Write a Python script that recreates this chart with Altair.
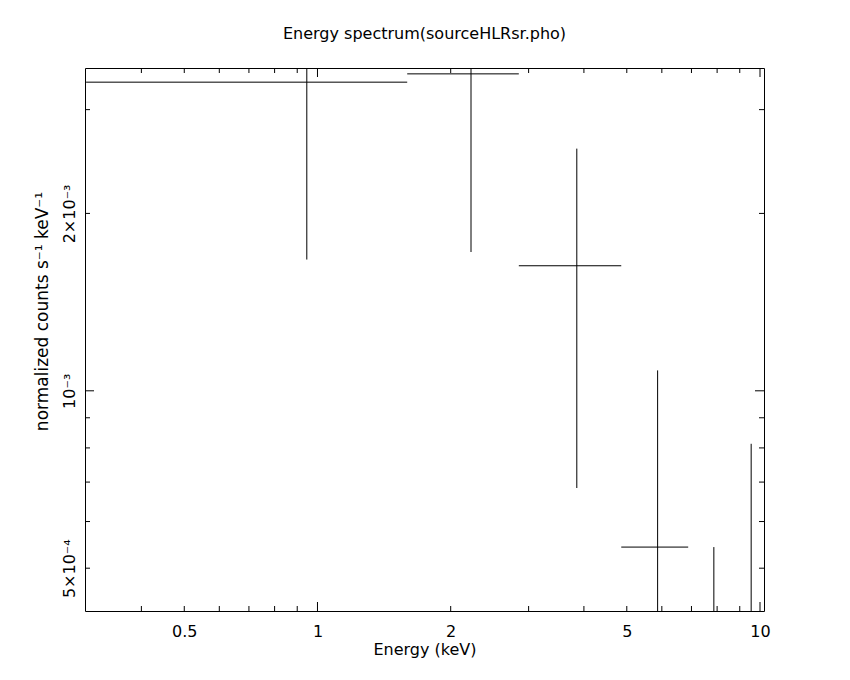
import altair as alt
import pandas as pd

# ---- data ----
bin_lo = [0.3, 1.595, 2.851, 4.858, 6.882, 8.85]
bin_hi = [1.595, 2.851, 4.858, 6.882, 8.85, 10.25]
energy = [0.946, 2.223, 3.855, 5.87, 7.865, 9.55]
rate = [3.34e-3, 3.45e-3, 1.63e-3, 5.43e-4, 2.75e-4, 4.1e-4]
rate_err = [1.67e-3, 1.73e-3, 0.946e-3, 5.40e-4, 2.68e-4, 4.03e-4]

x_label_values = [0.5, 1, 2, 5, 10]
y_label_values = [5e-4, 1e-3, 2e-3]
y_label_text = ["5×10⁻⁴", "10⁻³", "2×10⁻³"]
x_major = [1, 10]
x_minor = [0.4, 0.5, 0.6, 0.7, 0.8, 0.9, 2, 3, 4, 5, 6, 7, 8, 9]
y_major = [1e-3]
y_minor = [5e-4, 6e-4, 7e-4, 8e-4, 9e-4, 2e-3, 3e-3]

W, H = 679, 543
FONT = "DejaVu Sans"

df = pd.DataFrame({"lo": bin_lo, "hi": bin_hi, "energy": energy,
                   "rate": rate, "err": rate_err})
df["low"] = df["rate"] - df["err"]
df["high"] = df["rate"] + df["err"]

xs = alt.Scale(type="log", domain=[0.2983, 10.21], nice=False)
ys = alt.Scale(type="log", domain=[4.23e-4, 3.53e-3], nice=False)

ylab_expr = ("datum.value < 0.0007 ? '%s' : (datum.value < 0.0015 ? '%s' : '%s')"
             % tuple(y_label_text))

x_axis = alt.Axis(values=x_label_values, format="~g", title="Energy (keV)",
                  ticks=False, tickSize=0, domain=False, grid=False,
                  labelFont=FONT, labelFontSize=16, labelColor="black",
                  labelPadding=25, labelBaseline="alphabetic",
                  labelFlush=False, labelOverlap=False,
                  titleFont=FONT, titleFontSize=16, titleFontWeight="normal",
                  titleColor="black", titleY=43, titleBaseline="alphabetic")
y_axis = alt.Axis(values=y_label_values, labelExpr=ylab_expr,
                  title="normalized counts s⁻¹  keV⁻¹",
                  ticks=False, tickSize=0, domain=False, grid=False,
                  labelFont=FONT, labelFontSize=16, labelColor="black",
                  labelAngle=270, labelAlign="center", labelBaseline="alphabetic",
                  labelPadding=10.5, labelFlush=False, labelOverlap=False,
                  titleFont=FONT, titleFontSize=17, titleFontWeight="normal",
                  titleColor="black", titleAngle=270, titleX=-37.5, titleY=243,
                  titleAlign="center", titleBaseline="alphabetic")

base = alt.Chart(df)
hbars = base.mark_rule(clip=True, color="black", strokeWidth=1).encode(
    x=alt.X("lo:Q", scale=xs, axis=x_axis),
    x2="hi:Q",
    y=alt.Y("rate:Q", scale=ys, axis=y_axis),
)
vbars = base.mark_rule(clip=True, color="black", strokeWidth=1).encode(
    x=alt.X("energy:Q", scale=xs, axis=x_axis),
    y=alt.Y("low:Q", scale=ys, axis=y_axis),
    y2="high:Q",
)


def xticks(vals, length):
    d = alt.Chart(pd.DataFrame({"v": vals}))
    m = dict(color="black", strokeWidth=1)
    bottom = d.mark_rule(**m).encode(x=alt.X("v:Q", scale=xs, axis=x_axis),
                                     y=alt.value(H), y2=alt.value(H - length))
    top = d.mark_rule(**m).encode(x=alt.X("v:Q", scale=xs, axis=x_axis),
                                  y=alt.value(0), y2=alt.value(length))
    return [bottom, top]


def yticks(vals, length):
    d = alt.Chart(pd.DataFrame({"v": vals}))
    m = dict(color="black", strokeWidth=1)
    left = d.mark_rule(**m).encode(y=alt.Y("v:Q", scale=ys, axis=y_axis),
                                   x=alt.value(0), x2=alt.value(length))
    right = d.mark_rule(**m).encode(y=alt.Y("v:Q", scale=ys, axis=y_axis),
                                    x=alt.value(W), x2=alt.value(W - length))
    return [left, right]


layers = [hbars, vbars] + xticks(x_minor, 5) + xticks(x_major, 9) \
    + yticks(y_minor, 5) + yticks(y_major, 9)

chart = alt.layer(*layers).properties(
    width=W, height=H,
    padding={"left": 77, "top": 60, "right": 70, "bottom": 50},
    autosize=alt.AutoSizeParams(type="none"),
    background="white",
    title=alt.TitleParams("Energy spectrum(sourceHLRsr.pho)", font=FONT,
                          fontSize=16, fontWeight="normal", color="black",
                          anchor="middle", frame="group",
                          baseline="alphabetic", offset=13),
).configure_view(stroke="black", strokeWidth=1)

chart.save("out.html", embed_options={"renderer": "svg", "actions": False})
